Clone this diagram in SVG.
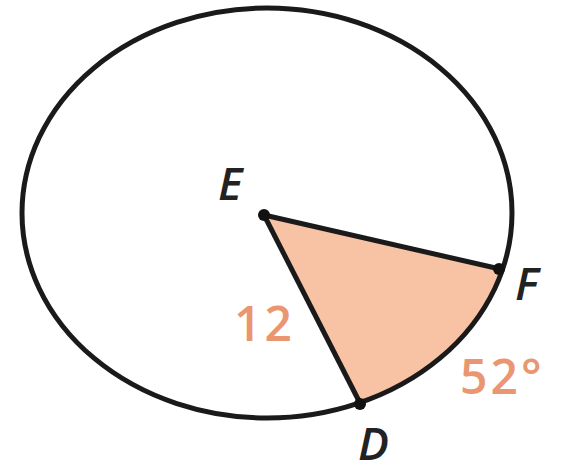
<svg xmlns="http://www.w3.org/2000/svg" width="577" height="472" viewBox="0 0 577 472">
<style>
.lbl{font-family:"Open Sans","Liberation Sans",Arial,sans-serif;font-style:italic;font-weight:600;font-size:46px;fill:#222}
.num{font-family:"Open Sans","Liberation Sans",sans-serif;font-weight:600;font-size:48px;letter-spacing:3px;fill:#ea9670}
.ln{fill:none;stroke:#1a1a1a;stroke-width:5;stroke-linejoin:round}
</style>
<rect width="577" height="472" fill="#fff"/>
<g id="sector">
<path d="M264,215 L500,269 A244,205 0 0 1 360,403 Z" fill="#f8c3a4"/>
</g>
<g id="circle">
<ellipse cx="267" cy="213" rx="245" ry="205" class="ln"/>
</g>
<g id="connectors">
<path d="M264,215 L500,269" class="ln"/>
<path d="M264,215 L360,403" class="ln"/>
</g>
<g id="E"><circle cx="264" cy="215" r="6" fill="#111"/><text x="218" y="200" class="lbl">E</text></g>
<g id="F"><circle cx="499" cy="269" r="6" fill="#111"/><text x="515" y="300" class="lbl">F</text></g>
<g id="D"><circle cx="360" cy="404" r="6" fill="#111"/><text x="358" y="460" class="lbl">D</text></g>
<text x="234" y="341" class="num">12</text>
<text x="460" y="394" class="num">52°</text>
</svg>
